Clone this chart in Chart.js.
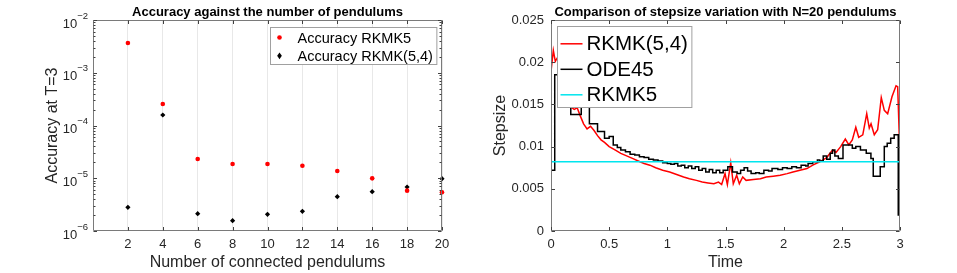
<!DOCTYPE html>
<html><head><meta charset="utf-8">
<script src="https://cdn.jsdelivr.net/npm/chart.js@4"></script>
<style>
html,body{margin:0;padding:0;background:#fff;}
#wrap{position:relative;width:957px;height:273px;overflow:hidden;background:#fff;}
.box{position:absolute;top:0;height:273px;}
canvas{display:block;}
</style></head><body>
<div id="wrap">
<div class="box" style="left:0;width:478px"><canvas id="c1" width="478" height="273"></canvas></div>
<div class="box" style="left:478px;width:479px"><canvas id="c2" width="479" height="273"></canvas></div>
</div>
<script>
// ---------- Left chart data ----------
const pendCounts = [2, 4, 6, 8, 10, 12, 14, 16, 18, 20];
const accRKMK5   = [3.66e-3, 2.56e-4, 2.32e-5, 1.86e-5, 1.86e-5, 1.73e-5, 1.37e-5, 9.96e-6, 5.82e-6, 5.41e-6];
const accRKMK54  = [2.81e-6, 1.58e-4, 2.13e-6, 1.57e-6, 2.07e-6, 2.36e-6, 4.48e-6, 5.57e-6, 6.83e-6, 9.82e-6];
const leftXTicks = [2, 4, 6, 8, 10, 12, 14, 16, 18, 20];
const leftYTicks = [1e-6, 1e-5, 1e-4, 1e-3, 1e-2];
const leftYTickBase = '10';
const leftYTickExp = ['\u22126', '\u22125', '\u22124', '\u22123', '\u22122'];
const leftTitle = 'Accuracy against the number of pendulums';

// ---------- Right chart data ----------
const rkmk54Time = [0, 0.02, 0.037, 0.054, 0.08, 0.11, 0.14, 0.17, 0.2, 0.225, 0.25, 0.28, 0.31, 0.34, 0.37, 0.40, 0.43, 0.46, 0.50, 0.55, 0.60, 0.65, 0.70, 0.75, 0.80, 0.85, 0.90, 0.96, 1.02, 1.08, 1.14, 1.19, 1.25, 1.30, 1.35, 1.40, 1.44, 1.467, 1.496, 1.516, 1.545, 1.567, 1.596, 1.619, 1.648, 1.677, 1.74, 1.80, 1.85, 1.91, 1.97, 2.03, 2.08, 2.14, 2.20, 2.25, 2.31, 2.37, 2.42, 2.45, 2.49, 2.53, 2.56, 2.59, 2.62, 2.645, 2.68, 2.714, 2.736, 2.751, 2.779, 2.808, 2.839, 2.865, 2.894, 2.931, 2.966, 2.98, 2.994];
const rkmk54Step = [0.0189, 0.0214, 0.0201, 0.0205, 0.0190, 0.0172, 0.0158, 0.0147, 0.0144, 0.0146, 0.0137, 0.0127, 0.0121, 0.0124, 0.0119, 0.0113, 0.0108, 0.0105, 0.0100, 0.0096, 0.0092, 0.0089, 0.0086, 0.0083, 0.0080, 0.0078, 0.0075, 0.0072, 0.0070, 0.0067, 0.0064, 0.0062, 0.0060, 0.0058, 0.0057, 0.0056, 0.0058, 0.0055, 0.0068, 0.0055, 0.0081, 0.0056, 0.0066, 0.0056, 0.0064, 0.0060, 0.0061, 0.0062, 0.0064, 0.0065, 0.0066, 0.0068, 0.0070, 0.0072, 0.0074, 0.0078, 0.0082, 0.0087, 0.0096, 0.0093, 0.0100, 0.0109, 0.0102, 0.0108, 0.0123, 0.0111, 0.0114, 0.0139, 0.0122, 0.0127, 0.0114, 0.0120, 0.0158, 0.0143, 0.0139, 0.0159, 0.0172, 0.0171, 0.0112];
const ode45Time = [0, 0.032, 0.12, 0.17, 0.26, 0.33, 0.40, 0.46, 0.50, 0.535, 0.57, 0.60, 0.64, 0.68, 0.72, 0.76, 0.80, 0.84, 0.88, 0.92, 0.96, 1.00, 1.03, 1.06, 1.09, 1.12, 1.15, 1.18, 1.21, 1.24, 1.27, 1.30, 1.33, 1.36, 1.39, 1.42, 1.45, 1.48, 1.52, 1.56, 1.60, 1.63, 1.66, 1.69, 1.72, 1.76, 1.79, 1.83, 1.87, 1.90, 1.95, 1.99, 2.03, 2.07, 2.11, 2.15, 2.19, 2.21, 2.25, 2.29, 2.31, 2.34, 2.37, 2.40, 2.42, 2.44, 2.47, 2.51, 2.59, 2.62, 2.66, 2.71, 2.75, 2.77, 2.83, 2.865, 2.89, 2.92, 2.95, 2.985, 3.0];
const ode45Step = [0.0072, 0.0185, 0.0165, 0.0138, 0.0156, 0.0127, 0.0118, 0.0110, 0.0112, 0.0102, 0.0099, 0.0096, 0.0094, 0.0091, 0.0090, 0.0088, 0.0087, 0.0085, 0.0084, 0.0083, 0.0081, 0.0080, 0.0079, 0.0080, 0.0077, 0.0078, 0.0075, 0.0077, 0.0074, 0.0076, 0.0072, 0.0074, 0.0070, 0.0073, 0.0069, 0.0072, 0.0069, 0.0072, 0.0076, 0.0070, 0.0068, 0.0072, 0.0075, 0.0071, 0.0068, 0.0069, 0.0068, 0.0072, 0.0071, 0.0074, 0.0073, 0.0075, 0.0074, 0.0076, 0.0075, 0.0078, 0.0077, 0.0080, 0.0082, 0.0084, 0.0083, 0.0089, 0.0085, 0.0092, 0.0096, 0.0089, 0.0086, 0.0102, 0.0098, 0.0100, 0.0096, 0.0092, 0.0086, 0.0065, 0.0076, 0.0100, 0.0104, 0.0110, 0.0114, 0.0019, 0.0019];
const rkmk5Time = [0, 3];
const rkmk5Step = [0.0082, 0.0082];
const rightXTicks = [0, 0.5, 1, 1.5, 2, 2.5, 3];
const rightXTickLabels = ['0', '0.5', '1', '1.5', '2', '2.5', '3'];
const rightYTicks = [0, 0.005, 0.01, 0.015, 0.02, 0.025];
const rightYTickLabels = ['0', '0.005', '0.01', '0.015', '0.02', '0.025'];
const rightTitle = 'Comparison of stepsize variation with N=20 pendulums';

// ---------- Styling ----------
const FONT = '"Liberation Sans", Arial, Helvetica, sans-serif';
const TXT = '#262626';
Chart.defaults.font.family = FONT;
Chart.defaults.color = TXT;

const toXY = (xs, ys) => xs.map((x, i) => ({x: x, y: ys[i]}));

// Plugin: MATLAB-like box, inward ticks, title, power-of-ten labels, inset legend
const matlabAxes = {
  id: 'matlabAxes',
  afterDraw(chart, args, o) {
    const ctx = chart.ctx, ca = chart.chartArea;
    const xs = chart.scales.x, ys = chart.scales.y;
    const L = Math.round(ca.left) + 0.5, R = Math.round(ca.right) - 0.5;
    const T = Math.round(ca.top) + 0.5, B = Math.round(ca.bottom) - 0.5;
    ctx.save();
    // title
    ctx.fillStyle = '#000';
    ctx.font = 'bold 13px ' + FONT;
    ctx.textAlign = 'center';
    ctx.textBaseline = 'middle';
    ctx.fillText(o.title, (ca.left + ca.right) / 2, 12.5);

    // box
    ctx.strokeStyle = '#7a7a7a';
    ctx.lineWidth = 1;
    ctx.beginPath();
    ctx.rect(L, T, R - L, B - T);
    ctx.stroke();
    ctx.strokeStyle = '#404040';
    ctx.beginPath();
    const tl = 3.5;
    o.xTicks.forEach(v => {
      const p = Math.round(xs.getPixelForValue(v)) + 0.5;
      ctx.moveTo(p, B); ctx.lineTo(p, B - tl);
      ctx.moveTo(p, T); ctx.lineTo(p, T + tl);
    });
    o.yTicks.forEach(v => {
      const p = Math.round(ys.getPixelForValue(v)) + 0.5;
      ctx.moveTo(L, p); ctx.lineTo(L + tl, p);
      ctx.moveTo(R, p); ctx.lineTo(R - tl, p);
    });
    (o.yMinor || []).forEach(v => {
      const p = Math.round(ys.getPixelForValue(v)) + 0.5;
      ctx.moveTo(L, p); ctx.lineTo(L + 2, p);
      ctx.moveTo(R, p); ctx.lineTo(R - 2, p);
    });
    ctx.stroke();

    // power-of-ten tick labels
    if (o.powLabels) {
      ctx.fillStyle = TXT;
      ctx.textAlign = 'right';
      ctx.textBaseline = 'middle';
      o.yTicks.forEach((v, i) => {
        const p = ys.getPixelForValue(v);
        const xr = ca.left - 5;
        ctx.font = '9.5px ' + FONT;
        const ew = ctx.measureText(o.powLabels.exp[i]).width;
        ctx.fillText(o.powLabels.exp[i], xr, p - 4);
        ctx.font = '13px ' + FONT;
        ctx.fillText(o.powLabels.base, xr - ew, p + 4);
      });
    }

    // Legend
    const lg = o.legend;
    const ds = chart.data.datasets;
    ctx.font = lg.fontSize + 'px ' + FONT;
    let maxW = 0;
    ds.forEach(d => { maxW = Math.max(maxW, ctx.measureText(d.label).width); });
    const w = lg.textX + maxW + lg.padR;
    const h = lg.height;
    const bx = lg.anchor === 'right' ? Math.round(ca.right - lg.dx - w) + 0.5 : Math.round(ca.left + lg.dx) + 0.5;
    const by = Math.round(ca.top + lg.dy) + 0.5;
    ctx.fillStyle = '#ffffff';
    ctx.fillRect(bx, by, w, h);
    ctx.strokeStyle = '#a0a0a0';
    ctx.lineWidth = 1;
    ctx.strokeRect(bx, by, w, h);
    ds.forEach((d, i) => {
      const cy = by + lg.firstRow + i * lg.rowGap;
      if (lg.kind === 'marker') {
        ctx.fillStyle = d.backgroundColor;
        const mx = bx + lg.markerX;
        ctx.beginPath();
        if (d.pointStyle === 'rectRot') {
          const r = d.pointRadius;
          ctx.moveTo(mx, cy - r * 1.3); ctx.lineTo(mx + r * 0.9, cy); ctx.lineTo(mx, cy + r * 1.3); ctx.lineTo(mx - r * 0.9, cy);
          ctx.closePath();
        } else {
          ctx.arc(mx, cy, d.pointRadius, 0, Math.PI * 2);
        }
        ctx.fill();
      } else {
        ctx.strokeStyle = d.borderColor;
        ctx.lineWidth = d.borderWidth;
        ctx.beginPath();
        ctx.moveTo(bx + lg.lineX0, cy); ctx.lineTo(bx + lg.lineX1, cy);
        ctx.stroke();
        ctx.lineWidth = 1;
      }
      ctx.fillStyle = '#000000';
      ctx.textBaseline = 'middle';
      ctx.textAlign = 'left';
      ctx.fillText(d.label, bx + lg.textX, cy + 1);
    });
    ctx.restore();
  }
};

const minorLog = [];
[-6, -5, -4, -3].forEach(e => { for (let k = 2; k <= 9; k++) minorLog.push(k * Math.pow(10, e)); });

new Chart(document.getElementById('c1'), {
  type: 'scatter',
  data: {
    datasets: [
      {label: 'Accuracy RKMK5', data: toXY(pendCounts, accRKMK5), pointStyle: 'circle', pointRadius: 2.3, backgroundColor: '#ff0000', borderColor: '#ff0000', borderWidth: 0, clip: false},
      {label: 'Accuracy RKMK(5,4)', data: toXY(pendCounts, accRKMK54), pointStyle: 'rectRot', pointRadius: 2.6, backgroundColor: '#000000', borderColor: '#000000', borderWidth: 0, clip: false}
    ]
  },
  options: {
    responsive: false, animation: false, events: [],
    layout: {padding: {top: 20, left: 0, right: 36, bottom: 0}},
    plugins: {
      legend: {display: false}, tooltip: {enabled: false}, title: {display: false},
      matlabAxes: {title: leftTitle, xTicks: leftXTicks, yTicks: leftYTicks, yMinor: minorLog,
        powLabels: {base: leftYTickBase, exp: leftYTickExp},
        legend: {kind: 'marker', anchor: 'right', dx: 6, dy: 7, height: 37, fontSize: 14.5, firstRow: 10, rowGap: 18.3, markerX: 9, textX: 27, padR: 4}}
    },
    scales: {
      x: {type: 'linear', min: 0, max: 20,
        afterBuildTicks: s => { s.ticks = leftXTicks.map(v => ({value: v})); },
        ticks: {font: {size: 13}, padding: 6, maxRotation: 0, autoSkip: false, color: TXT},
        grid: {color: '#e8e8e8', drawTicks: false},
        border: {display: false},
        title: {display: true, text: 'Number of connected pendulums', font: {size: 16}, color: TXT, padding: {top: 0, bottom: 0.5}},
        afterFit: s => { s.height = 42; }
      },
      y: {type: 'logarithmic', min: 1e-6, max: 1e-2,
        afterBuildTicks: s => { s.ticks = leftYTicks.map(v => ({value: v})); },
        ticks: {display: false},
        grid: {display: false, drawTicks: false},
        border: {display: false},
        title: {display: true, text: 'Accuracy at T=3', font: {size: 16}, color: TXT, padding: {top: 43, bottom: 0}},
        afterFit: s => { s.width = 93; }
      }
    }
  },
  plugins: [matlabAxes]
});

new Chart(document.getElementById('c2'), {
  type: 'line',
  data: {
    datasets: [
      {label: 'RKMK(5,4)', data: toXY(rkmk54Time, rkmk54Step), borderColor: '#ff0000', backgroundColor: '#ff0000', borderWidth: 1.5, pointRadius: 0, tension: 0, order: 3},
      {label: 'ODE45', data: toXY(ode45Time, ode45Step), borderColor: '#000000', backgroundColor: '#000000', borderWidth: 1.5, pointRadius: 0, stepped: true, order: 2},
      {label: 'RKMK5', data: toXY(rkmk5Time, rkmk5Step), borderColor: '#00e5ee', backgroundColor: '#00e5ee', borderWidth: 1.5, pointRadius: 0, tension: 0, order: 1}
    ]
  },
  options: {
    responsive: false, animation: false, events: [],
    layout: {padding: {top: 20, left: 0, right: 57, bottom: 0}},
    plugins: {
      legend: {display: false}, tooltip: {enabled: false}, title: {display: false},
      matlabAxes: {title: rightTitle, xTicks: rightXTicks, yTicks: rightYTicks,
        legend: {kind: 'line', anchor: 'left', dx: 6, dy: 6, height: 81, fontSize: 20.5, firstRow: 17.3, rowGap: 25.5, lineX0: 3, lineX1: 25, textX: 29, padR: 4}}
    },
    scales: {
      x: {type: 'linear', min: 0, max: 3,
        afterBuildTicks: s => { s.ticks = rightXTicks.map(v => ({value: v})); },
        ticks: {font: {size: 13}, padding: 6, maxRotation: 0, autoSkip: false, color: TXT, callback: (v, i) => rightXTickLabels[i]},
        grid: {display: false, drawTicks: false},
        border: {display: false},
        title: {display: true, text: 'Time', font: {size: 16}, color: TXT, padding: {top: 0, bottom: 0.5}},
        afterFit: s => { s.height = 42; }
      },
      y: {type: 'linear', min: 0, max: 0.025,
        afterBuildTicks: s => { s.ticks = rightYTicks.map(v => ({value: v})); },
        ticks: {font: {size: 13}, padding: 7, color: TXT, autoSkip: false, callback: (v, i) => rightYTickLabels[i]},
        grid: {display: false, drawTicks: false},
        border: {display: false},
        title: {display: true, text: 'Stepsize', font: {size: 16}, color: TXT, padding: {top: 13, bottom: 0}},
        afterFit: s => { s.width = 73; }
      }
    }
  },
  plugins: [matlabAxes]
});
</script>
</body></html>
